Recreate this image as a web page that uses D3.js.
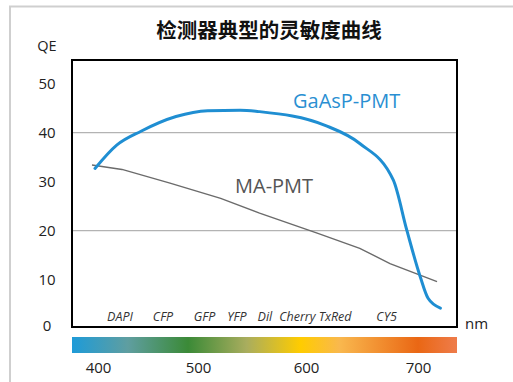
<!DOCTYPE html>
<html>
<head>
<meta charset="utf-8">
<script src="https://cdn.jsdelivr.net/npm/d3@7"></script>
<style>
  html, body { margin: 0; padding: 0; background: #fff; }
  svg { display: block; font-family: "Open Sans", "Noto Sans", sans-serif; }
</style>
</head>
<body>
<div id="chart"></div>
<script>
// Quantum efficiency (%) against wavelength (nm) for two detector types
const gaaspWavelength = [397, 419, 443, 478, 509, 539, 557, 617, 648, 678, 690, 702, 709, 720];
const gaaspQE         = [32.7, 37.5, 40.3, 43.3, 44.5, 44.6, 44.3, 41.5, 37.8, 30.3, 20.1, 10.6, 6.2, 4.2];
const maWavelength    = [394, 424, 472, 521, 557, 610, 648, 675, 717];
const maQE            = [33.4, 32.5, 29.7, 26.6, 23.6, 19.5, 16.4, 13.3, 9.6];

// Fluorophores marked along the wavelength axis
const dyeNames = ["DAPI", "CFP", "GFP", "YFP", "Dil", "Cherry", "TxRed", "CY5"];
const dyeWavelength = [422, 465, 506, 536, 562, 592, 626, 672];

const yTicks = [0, 10, 20, 30, 40, 50];
const gridValues = [20, 40];
const xTicks = [400, 500, 600, 700];

// Colours of the visible spectrum strip
const spectrumStops = [
  { nm: 373, color: "#1e9bd8" },
  { nm: 430, color: "#5f9ea0" },
  { nm: 490, color: "#3b8a37" },
  { nm: 545, color: "#a9ad5e" },
  { nm: 595, color: "#ffcc00" },
  { nm: 630, color: "#f9b84e" },
  { nm: 700, color: "#ea6714" },
  { nm: 733, color: "#ee7b48" }
];

const W = 513, H = 382;
const box = { left: 72, top: 60, right: 457, bottom: 327 };

const svg = d3.select("#chart").append("svg")
  .attr("width", W).attr("height", H);

// wavelength axis is drawn slightly stretched toward the red end
const x = d3.scaleLinear()
  .domain([300, 400, 500, 600, 700, 800])
  .range([-2, 98, 198, 306, 418, 530]);
const y = d3.scaleLinear().domain([0, 50]).range([328.7, 83.7]);

// outer frame (top and left edges)
svg.append("path")
  .attr("d", `M10,382 L10,6.5 L${W},6.5`)
  .attr("fill", "none").attr("stroke", "#cfcfcf").attr("stroke-width", 2);

// title
svg.append("text")
  .attr("x", 269).attr("y", 38)
  .attr("text-anchor", "middle")
  .attr("font-family", "'Noto Sans CJK SC', sans-serif")
  .attr("font-weight", "bold").attr("font-size", 20.5)
  .attr("fill", "#111")
  .text("检测器典型的灵敏度曲线");

svg.append("text")
  .attr("x", 47).attr("y", 51).attr("text-anchor", "middle")
  .attr("font-size", 14.5).attr("fill", "#222").text("QE");

// gridlines
svg.append("g").selectAll("line").data(gridValues).join("line")
  .attr("x1", box.left).attr("x2", box.right)
  .attr("y1", d => y(d)).attr("y2", d => y(d))
  .attr("stroke", "#b3b3b3").attr("stroke-width", 1.2);

// y axis labels
const yAxis = d3.axisLeft(y).tickValues(yTicks).tickSize(0).tickPadding(0);
const gy = svg.append("g").attr("transform", "translate(47,0)").call(yAxis);
gy.select(".domain").remove();
gy.selectAll("text")
  .attr("text-anchor", "middle").attr("dy", "0.35em")
  .attr("font-family", "'Open Sans', sans-serif")
  .attr("font-size", 15).attr("fill", "#222");
gy.selectAll("text").filter(d => d === 0).attr("y", -3);

// curves
const lineGen = d3.line()
  .x(d => x(d[0])).y(d => y(d[1]))
  .curve(d3.curveMonotoneX);

svg.append("path")
  .datum(d3.zip(maWavelength, maQE))
  .attr("d", d3.line().x(d => x(d[0])).y(d => y(d[1])).curve(d3.curveLinear))
  .attr("fill", "none").attr("stroke", "#6b6b6b").attr("stroke-width", 1.4);

svg.append("path")
  .datum(d3.zip(gaaspWavelength, gaaspQE))
  .attr("d", lineGen)
  .attr("fill", "none").attr("stroke", "#1f8ed2").attr("stroke-width", 3)
  .attr("stroke-linejoin", "round").attr("stroke-linecap", "round");

// series names
svg.append("text").attr("x", 293).attr("y", 108)
  .attr("font-size", 20).attr("fill", "#2a8fd2").text("GaAsP-PMT");
svg.append("text").attr("x", 235).attr("y", 193)
  .attr("font-size", 20).attr("fill", "#555").text("MA-PMT");

// fluorophore names
svg.append("g").selectAll("text").data(d3.zip(dyeNames, dyeWavelength)).join("text")
  .attr("x", d => x(d[1])).attr("y", 321)
  .attr("text-anchor", "middle")
  .attr("font-style", "italic").attr("font-size", 12.5).attr("fill", "#333")
  .text(d => d[0]);

// plot frame
svg.append("rect")
  .attr("x", box.left).attr("y", box.top)
  .attr("width", box.right - box.left).attr("height", box.bottom - box.top)
  .attr("fill", "none").attr("stroke", "#000").attr("stroke-width", 2);

svg.append("text").attr("x", 465).attr("y", 329)
  .attr("font-size", 15).attr("fill", "#222").text("nm");

// spectrum strip
const defs = svg.append("defs");
const grad = defs.append("linearGradient").attr("id", "spectrum")
  .attr("gradientUnits", "userSpaceOnUse")
  .attr("x1", box.left).attr("x2", box.right).attr("y1", 0).attr("y2", 0);
grad.selectAll("stop").data(spectrumStops).join("stop")
  .attr("offset", d => (x(d.nm) - box.left) / (box.right - box.left))
  .attr("stop-color", d => d.color);

svg.append("rect")
  .attr("x", box.left).attr("y", 337)
  .attr("width", box.right - box.left).attr("height", 16)
  .attr("fill", "url(#spectrum)");

// wavelength axis labels
const xAxis = d3.axisBottom(x).tickValues(xTicks).tickSize(0).tickPadding(0);
const gx = svg.append("g").attr("transform", "translate(0,362)").call(xAxis);
gx.select(".domain").remove();
gx.selectAll("text")
  .attr("font-family", "'Open Sans', sans-serif")
  .attr("font-size", 15).attr("fill", "#222");
</script>
</body>
</html>
